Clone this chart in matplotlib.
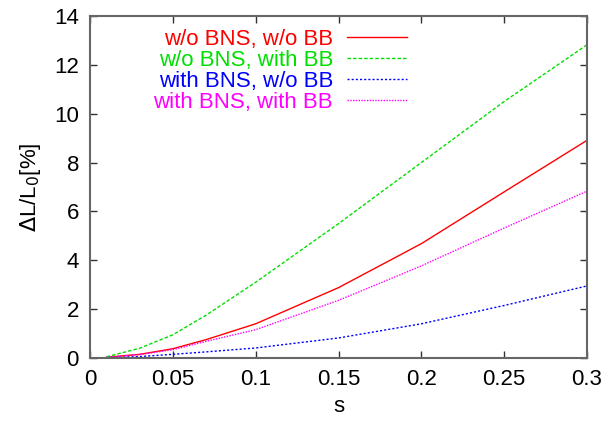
import matplotlib
matplotlib.use("Agg")
import matplotlib.pyplot as plt

s = [0.01, 0.03, 0.05, 0.07, 0.1, 0.15, 0.2, 0.25, 0.3]
red = [0.03, 0.15, 0.38, 0.75, 1.4, 2.88, 4.68, 6.8, 8.91]
green = [0.05, 0.4, 0.95, 1.75, 3.1, 5.5, 8.0, 10.5, 12.82]
blue = [0.01, 0.06, 0.15, 0.25, 0.41, 0.82, 1.4, 2.15, 2.95]
magenta = [0.03, 0.14, 0.34, 0.68, 1.16, 2.36, 3.77, 5.32, 6.83]
labels = ["w/o BNS, w/o BB", "w/o BNS, with BB", "with BNS, w/o BB", "with BNS, with BB"]
xticks = [0, 0.05, 0.1, 0.15, 0.2, 0.25, 0.3]
xticklabels = ["0", "0.05", "0.1", "0.15", "0.2", "0.25", "0.3"]
yticks = [0, 2, 4, 6, 8, 10, 12, 14]

plt.rcParams['font.family'] = ['Liberation Sans', 'DejaVu Sans']
fig = plt.figure(figsize=(6.12, 4.21), dpi=100)
ax = fig.add_axes([90/612, 63/421, 497/612, 342/421])

series = [red, green, blue, magenta]
colors = ["#ff0000", "#00e000", "#0000ff", "#ff00ff"]
styles = ["-", (0, (2.5, 1.5)), (0, (1.5, 1.5)), (0, (1, 1))]
handles = []
for y, c, ls, lab in zip(series, colors, styles, labels):
    h, = ax.plot(s, y, color=c, linestyle=ls, linewidth=1.0, label=lab)
    handles.append(h)

ax.set_xlim(0, 0.3)
ax.set_ylim(0, 14)
ax.set_xticks(xticks)
ax.set_xticklabels(xticklabels)
ax.set_yticks(yticks)
ax.tick_params(direction='in', length=5, width=1, top=True, right=True, labelsize=16, pad=8, color='#333333')
for sp in ax.spines.values():
    sp.set_color('#666666')
    sp.set_linewidth(1.5)

ax.set_xlabel("s", fontsize=16, labelpad=4)
ax.set_ylabel(r"$\Delta$L/L$_0$[%]", fontsize=16, labelpad=8)

leg = ax.legend(handles=handles, loc='upper right', bbox_to_anchor=(0.638, 0.962), frameon=False,
                fontsize=16, markerfirst=False, handlelength=2.7, handletextpad=0.63,
                labelspacing=0.0, borderpad=0.0, borderaxespad=0.0)
for t, c in zip(leg.get_texts(), colors):
    t.set_color(c)
leg._legend_box.align = "right"
for vp in leg._legend_handle_box.get_children():
    vp.align = "right"

fig.savefig("out.png", dpi=100)
